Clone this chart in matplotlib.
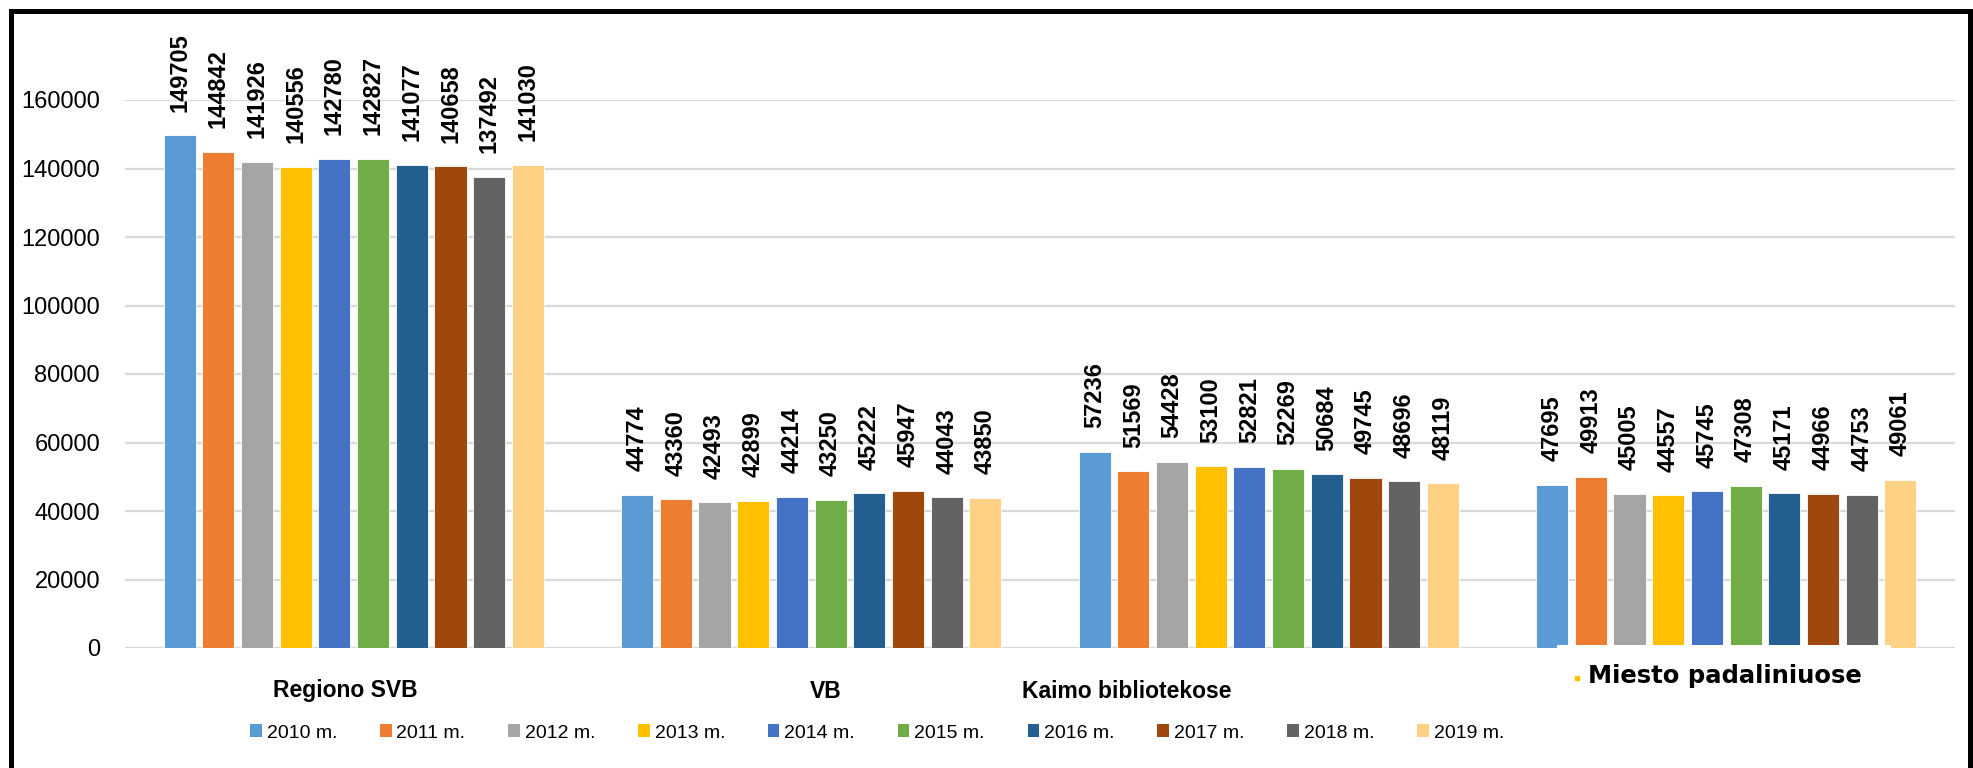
import matplotlib
matplotlib.use("Agg")
import matplotlib.pyplot as plt
from matplotlib import font_manager
from matplotlib.patches import Rectangle, Patch
from matplotlib.lines import Line2D
import numpy as np

categories = ["Regiono SVB", "VB", "Kaimo bibliotekose", "Miesto padaliniuose"]
years = ["2010 m.", "2011 m.", "2012 m.", "2013 m.", "2014 m.",
         "2015 m.", "2016 m.", "2017 m.", "2018 m.", "2019 m."]
values = {
    "2010 m.": [149705, 44774, 57236, 47695],
    "2011 m.": [144842, 43360, 51569, 49913],
    "2012 m.": [141926, 42493, 54428, 45005],
    "2013 m.": [140556, 42899, 53100, 44557],
    "2014 m.": [142780, 44214, 52821, 45745],
    "2015 m.": [142827, 43250, 52269, 47308],
    "2016 m.": [141077, 45222, 50684, 45171],
    "2017 m.": [140658, 45947, 49745, 44966],
    "2018 m.": [137492, 44043, 48696, 44753],
    "2019 m.": [141030, 43850, 48119, 49061],
}
colors = ["#5B9BD5", "#ED7D31", "#A5A5A5", "#FFC000", "#4472C4",
          "#70AD47", "#255E91", "#9E480E", "#636363", "#FFD184"]
yticks = [0, 20000, 40000, 60000, 80000, 100000, 120000, 140000, 160000]


def fam(*names):
    out = []
    for n in names:
        try:
            font_manager.findfont(font_manager.FontProperties(family=n),
                                  fallback_to_default=False)
            out.append(n)
        except Exception:
            pass
    return out + ["DejaVu Sans"]

REG = fam("Liberation Sans")

W, H = 1973, 768
fig = plt.figure(figsize=(W / 100, H / 100), dpi=100)
fig.patch.set_facecolor("white")

x0, x1 = 125, 1955
yb, yt = 648, 100
ax = fig.add_axes([x0 / W, 1 - yb / H, (x1 - x0) / W, (yb - yt) / H])
ax.set_xlim(-0.5, 3.5)
ax.set_ylim(0, 160000)

n = len(years)
slot = 0.0846
bw = 0.070
x = np.arange(len(categories))
for i, (yr, c) in enumerate(zip(years, colors)):
    off = (i - (n - 1) / 2) * slot
    bars = ax.bar(x + off, values[yr], width=bw, color=c, zorder=3,
                  edgecolor="white", linewidth=0.6)
    for b, v in zip(bars, values[yr]):
        ax.annotate(str(v), (b.get_x() + b.get_width() / 2, v),
                    xytext=(0, 17), textcoords="offset points",
                    rotation=90, ha="center", va="bottom",
                    fontsize=17, fontweight="bold", family=REG,
                    annotation_clip=False, zorder=5)

ax.set_yticks(yticks)
ax.set_yticklabels([str(t) for t in yticks], family=REG, fontsize=17)
ax.tick_params(axis="y", length=0, pad=18)
ax.set_xticks([])
ax.grid(axis="y", color="#D9D9D9", linewidth=1.6, zorder=0)
for s in ax.spines.values():
    s.set_visible(False)

# category labels
cat_pos = [(345, 691), (826, 691), (1127, 691)]
for (px, py), lab in zip(cat_pos, categories[:3]):
    fig.text(px / W, 1 - py / H, lab, ha="center", va="center",
             fontsize=16.5, fontweight="bold", family=REG)

# white cover box (artifact in reference)
fig.patches.append(Rectangle((1557 / W, 1 - 662 / H), (1891 - 1557) / W, 17 / H,
                             transform=fig.transFigure, facecolor="white",
                             edgecolor="none", zorder=10))
fig.text(1725 / W, 1 - 676 / H, categories[3], ha="center", va="center",
         fontsize=17.5, fontweight="bold", family=["DejaVu Sans"], zorder=11)
fig.lines.append(Line2D([1577 / W], [1 - 678 / H], marker="s", markersize=2.5,
                        color="#FFC000", transform=fig.transFigure, zorder=11))

# legend
handles = [Patch(facecolor=c, edgecolor="none") for c in colors]
fig.legend(handles, years, loc="center", ncol=10,
           bbox_to_anchor=(877 / W, 1 - 733 / H), frameon=False,
           prop=dict(family=REG, size=14),
           handlelength=0.6, handleheight=0.6, handletextpad=0.25,
           columnspacing=2.2)

# outer black frame (open at bottom)
lw = 5 * 72 / 100
for xs, ys in [([10.5, 10.5], [H, 10.5]), ([10.5, 1969.5], [10.5, 10.5]),
               ([1969.5, 1969.5], [10.5, H])]:
    fig.lines.append(Line2D([v / W for v in xs], [1 - v / H for v in ys],
                            color="black", linewidth=lw,
                            transform=fig.transFigure, zorder=20))

fig.savefig("out.png", dpi=100, facecolor="white")
